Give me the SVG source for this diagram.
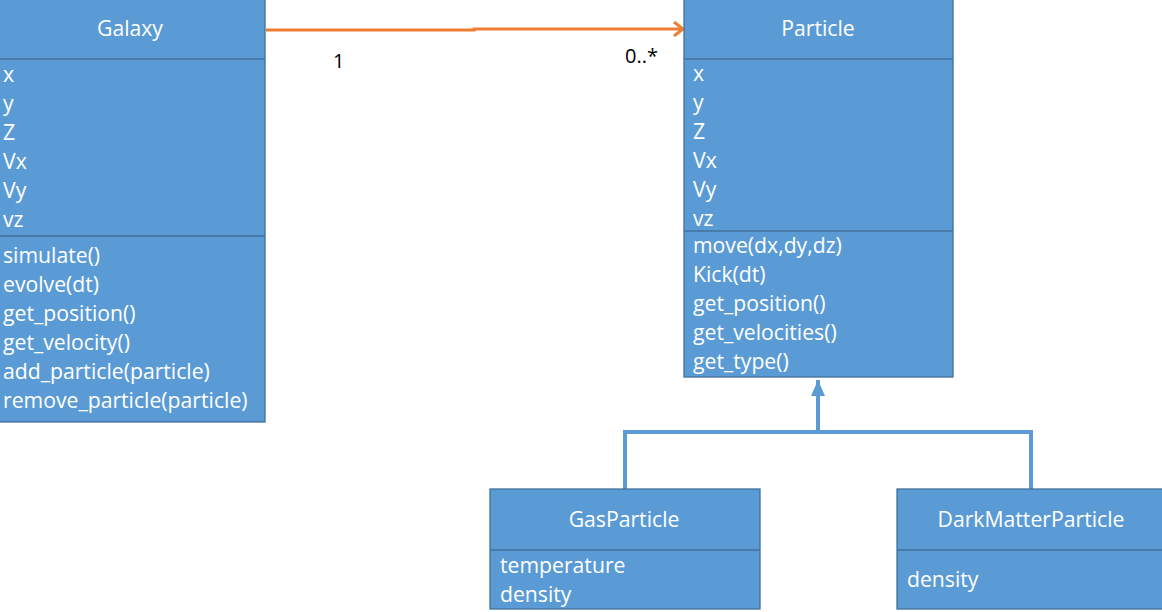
<svg xmlns="http://www.w3.org/2000/svg" width="1162" height="612" viewBox="0 0 1162 612">
<style>
.box{fill:#5B9BD5;stroke:#41719C;stroke-width:1.3}
.div{stroke:#41719C;stroke-width:1.3}
text{font-family:"Open Sans","Liberation Sans",sans-serif;font-size:21.2px;fill:#fff}
.t{text-anchor:middle}
.lbl{fill:#000;font-size:20px}
</style>
<defs>
<marker id="open" markerWidth="14" markerHeight="16" refX="11" refY="8" orient="auto" markerUnits="userSpaceOnUse">
<path d="M2,1 L11,8 L2,15" fill="none" stroke="#ED7D31" stroke-width="3"/>
</marker>
<marker id="tri" markerWidth="16" markerHeight="18" refX="8" refY="1" orient="0" markerUnits="userSpaceOnUse">
<path d="M1,17 L8,1 L15,17 Z" fill="#5B9BD5"/>
</marker>
</defs>
<g id="connectors">
<path d="M266,30 H474 V29 H683" fill="none" stroke="#ED7D31" stroke-width="3" marker-end="url(#open)"/>
<text class="lbl" x="333" y="68">1</text>
<text class="lbl" x="625" y="63">0..*</text>
<path d="M818,430 V380" fill="none" stroke="#5B9BD5" stroke-width="4" marker-end="url(#tri)"/>
<path d="M625,489 V432 H1031 V489" fill="none" stroke="#5B9BD5" stroke-width="4"/>
</g>
<g id="galaxy">
<rect class="box" x="-2" y="-2" width="267" height="424"/>
<line class="div" x1="-2" y1="59" x2="265" y2="59"/>
<line class="div" x1="-2" y1="236" x2="265" y2="236"/>
<text class="t" x="130" y="36">Galaxy</text>
<text x="3" y="82">x</text>
<text x="3" y="111">y</text>
<text x="3" y="140">Z</text>
<text x="3" y="169">Vx</text>
<text x="3" y="198">Vy</text>
<text x="3" y="227">vz</text>
<text x="3" y="263">simulate()</text>
<text x="3" y="292">evolve(dt)</text>
<text x="3" y="321">get_position()</text>
<text x="3" y="350">get_velocity()</text>
<text x="3" y="379">add_particle(particle)</text>
<text x="3" y="408">remove_particle(particle)</text>
</g>
<g id="particle">
<rect class="box" x="684" y="-2" width="269" height="379"/>
<line class="div" x1="684" y1="59" x2="953" y2="59"/>
<line class="div" x1="684" y1="231" x2="953" y2="231"/>
<text class="t" x="818" y="36">Particle</text>
<text x="693" y="81">x</text>
<text x="693" y="110">y</text>
<text x="693" y="139">Z</text>
<text x="693" y="168">Vx</text>
<text x="693" y="197">Vy</text>
<text x="693" y="226">vz</text>
<text x="693" y="253">move(dx,dy,dz)</text>
<text x="693" y="282">Kick(dt)</text>
<text x="693" y="311">get_position()</text>
<text x="693" y="340">get_velocities()</text>
<text x="693" y="369">get_type()</text>
</g>
<g id="gasparticle">
<rect class="box" x="490" y="489" width="270" height="120"/>
<line class="div" x1="490" y1="550" x2="760" y2="550"/>
<text class="t" x="624" y="527">GasParticle</text>
<text x="500" y="573">temperature</text>
<text x="500" y="602">density</text>
</g>
<g id="darkmatterparticle">
<rect class="box" x="897" y="489" width="267" height="120"/>
<line class="div" x1="897" y1="550" x2="1164" y2="550"/>
<text class="t" x="1031" y="527">DarkMatterParticle</text>
<text x="907" y="587">density</text>
</g>
</svg>
